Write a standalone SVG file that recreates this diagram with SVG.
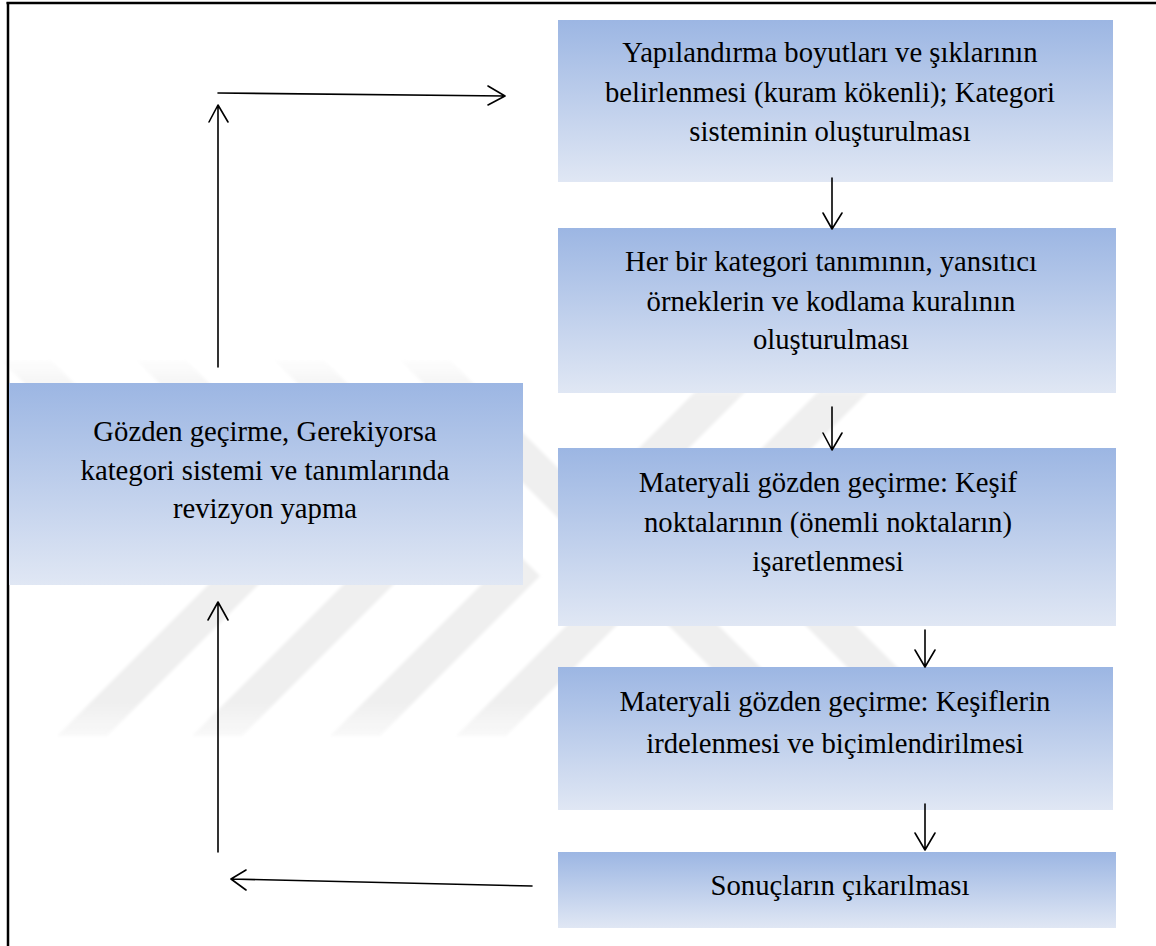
<svg xmlns="http://www.w3.org/2000/svg" width="1156" height="946" viewBox="0 0 1156 946">
  <defs>
    <linearGradient id="boxGrad" x1="0" y1="0" x2="0" y2="1">
      <stop offset="0" stop-color="#9cb6e3"/>
      <stop offset="1" stop-color="#e0e7f4"/>
    </linearGradient>
    <linearGradient id="wmGrad" gradientUnits="userSpaceOnUse" x1="0" y1="355" x2="0" y2="740">
      <stop offset="0" stop-color="#ffffff"/>
      <stop offset="0.12" stop-color="#efefef"/>
      <stop offset="0.9" stop-color="#efefef"/>
      <stop offset="1" stop-color="#fafafa"/>
    </linearGradient>
    <filter id="soft" x="-5%" y="-5%" width="110%" height="110%">
      <feGaussianBlur stdDeviation="1.5"/>
    </filter>
    <style>
      .box { fill: url(#boxGrad); }
      .lbl { font-family: "Liberation Serif", "Times New Roman", serif; font-size: 28.7px; fill: #000; text-anchor: middle; }
      .conn { stroke: #000; stroke-width: 1.6; fill: none; stroke-linecap: round; stroke-linejoin: round; }
      .wm { fill: url(#wmGrad); }
      .frame { stroke: #000; stroke-width: 2.5; fill: none; }
    </style>
  </defs>

  <rect x="0" y="0" width="1156" height="946" fill="#ffffff"/>

  <!-- faint watermark -->
  <g id="watermark" filter="url(#soft)">
    <polygon class="wm" points="57,736 107,736 267,576 51,360 1,360 217,576"/>
    <polygon class="wm" points="192,736 242,736 402,576 186,360 136,360 352,576"/>
    <polygon class="wm" points="330,736 380,736 540,576 324,360 274,360 490,576"/>
    <polygon class="wm" points="456,736 506,736 666,576 450,360 400,360 616,576"/>
    <polygon class="wm" points="565,522 727,360 777,360 615,522 829,736 779,736"/>
    <polygon class="wm" points="695,515 850,360 900,360 745,515 966,736 916,736"/>
  </g>

  <!-- frame -->
  <g id="frame">
    <line class="frame" x1="6.5" y1="3" x2="1156" y2="3"/>
    <line class="frame" x1="8" y1="2" x2="8" y2="946"/>
  </g>

  <g id="node1">
    <rect class="box" x="558" y="20" width="555" height="162"/>
    <text class="lbl" x="830" y="62">Yapılandırma boyutları ve şıklarının</text>
    <text class="lbl" x="830" y="102">belirlenmesi (kuram kökenli); Kategori</text>
    <text class="lbl" x="830" y="141">sisteminin oluşturulması</text>
  </g>

  <g id="node2">
    <rect class="box" x="558" y="228" width="558" height="165"/>
    <text class="lbl" x="831" y="271">Her bir kategori tanımının, yansıtıcı</text>
    <text class="lbl" x="831" y="311">örneklerin ve kodlama kuralının</text>
    <text class="lbl" x="831" y="349">oluşturulması</text>
  </g>

  <g id="node3">
    <rect class="box" x="558" y="448" width="558" height="178"/>
    <text class="lbl" x="828" y="492">Materyali gözden geçirme: Keşif</text>
    <text class="lbl" x="828" y="532">noktalarının (önemli noktaların)</text>
    <text class="lbl" x="828" y="571">işaretlenmesi</text>
  </g>

  <g id="node4">
    <rect class="box" x="558" y="667" width="555" height="143"/>
    <text class="lbl" x="835" y="711">Materyali gözden geçirme: Keşiflerin</text>
    <text class="lbl" x="835" y="753">irdelenmesi ve biçimlendirilmesi</text>
  </g>

  <g id="node5">
    <rect class="box" x="558" y="852" width="558" height="76"/>
    <text class="lbl" x="840" y="895">Sonuçların çıkarılması</text>
  </g>

  <g id="node6">
    <rect class="box" x="9" y="383" width="514" height="202"/>
    <text class="lbl" x="265" y="441">Gözden geçirme, Gerekiyorsa</text>
    <text class="lbl" x="265" y="480">kategori sistemi ve tanımlarında</text>
    <text class="lbl" x="265" y="518">revizyon yapma</text>
  </g>

  <g id="connectors">
    <!-- box1 -> box2 -->
    <path class="conn" d="M832,178 L832,229 M823,213 L832,229 L842,213"/>
    <!-- box2 -> box3 -->
    <path class="conn" d="M832,407 L832,450 M823,433 L832,450 L842,433"/>
    <!-- box3 -> box4 -->
    <path class="conn" d="M925,630 L925,667 M915,650 L925,667 L935,650"/>
    <!-- box4 -> box5 -->
    <path class="conn" d="M925,804 L925,850 M915,833 L925,850 L935,833"/>
    <!-- box5 -> left (return) -->
    <path class="conn" d="M532,886 L231,879 M246,870 L231,879 L246,890"/>
    <!-- up into left box -->
    <path class="conn" d="M218,852 L218,602 M208,620 L218,602 L228,620"/>
    <!-- left box up -->
    <path class="conn" d="M218,367 L218,105 M209,122 L218,105 L228,122"/>
    <!-- top horizontal to box1 -->
    <path class="conn" d="M218,93 L505,96 M488,86 L505,96 L488,105"/>
  </g>
</svg>
